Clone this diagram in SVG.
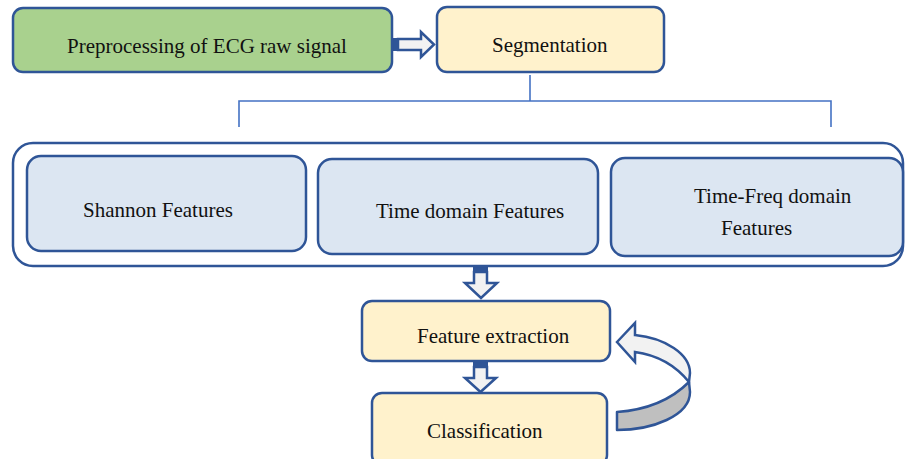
<svg xmlns="http://www.w3.org/2000/svg" width="906" height="459" viewBox="0 0 906 459">
<style>
.box{stroke:#2f5597;stroke-width:2.5}
.green{fill:#a9d18e}
.yellow{fill:#fff2cc}
.blue{fill:#dce6f2}
.t{font-family:"Liberation Serif","Times New Roman",serif;font-size:21px;fill:#111}
.arr{fill:#f2f2f2;stroke:#2f5597;stroke-width:2.5;stroke-linejoin:miter}
.stub{fill:#2f5597}
.br{fill:none;stroke:#4472c4;stroke-width:1.6}
</style>
<rect width="906" height="459" fill="#fff"/>
<g id="connectors">
  <path class="br" d="M530,75 V101 M239,127 V101 H831 V127"/>
  <g id="arrow-right">
    <path class="arr" d="M398,39 H421 V32 L434,44.5 L421,57 V50 H398 Z"/>
    <rect class="stub" x="393" y="38" width="6" height="13"/>
  </g>
  <g id="arrow-down1">
    <path class="arr" d="M474,272 V283 H465 L481,298 L497,283 H487 V272 Z"/>
    <rect class="stub" x="473" y="267" width="15" height="6"/>
  </g>
  <g id="arrow-down2">
    <path class="arr" d="M474,367 V378 H465 L480.5,392 L496,378 H487 V367 Z"/>
    <rect class="stub" x="473" y="362" width="15" height="6"/>
  </g>
  <g id="arrow-curved">
    <path d="M689,382 C670,401 645,410 617,412 L617,430 C652,430 690,416 690,392 Z" fill="#bfbfbf" stroke="#2f5597" stroke-width="2.5" stroke-linejoin="round"/>
    <path class="arr" d="M617,342 L635,323 L635,335 C665,338 690,354 690,373 L689,382 C676,366 657,355 635,352 L635,362 Z"/>
  </g>
</g>
<g id="preprocessing">
  <rect class="box green" x="13" y="8" width="379" height="64" rx="10"/>
  <text class="t" x="67" y="53">Preprocessing of ECG raw signal</text>
</g>
<g id="segmentation">
  <rect class="box yellow" x="437" y="7" width="227" height="65" rx="10"/>
  <text class="t" x="492" y="52">Segmentation</text>
</g>
<g id="features-group">
  <rect class="box" fill="none" x="13" y="143" width="890" height="123" rx="20"/>
</g>
<g id="shannon">
  <rect class="box blue" x="27" y="156" width="279" height="95" rx="14"/>
  <text class="t" x="83" y="217">Shannon Features</text>
</g>
<g id="time-domain">
  <rect class="box blue" x="318" y="159" width="280" height="95" rx="14"/>
  <text class="t" x="376" y="218">Time domain Features</text>
</g>
<g id="time-freq">
  <rect class="box blue" x="611" y="158" width="292" height="98" rx="14"/>
  <text class="t" x="694" y="203">Time-Freq domain</text>
  <text class="t" x="721" y="235">Features</text>
</g>
<g id="feature-extraction">
  <rect class="box yellow" x="362" y="301" width="248" height="60" rx="10"/>
  <text class="t" x="417" y="343">Feature extraction</text>
</g>
<g id="classification">
  <rect class="box yellow" x="372" y="393" width="235" height="72" rx="10"/>
  <text class="t" x="427" y="438">Classification</text>
</g>
</svg>
